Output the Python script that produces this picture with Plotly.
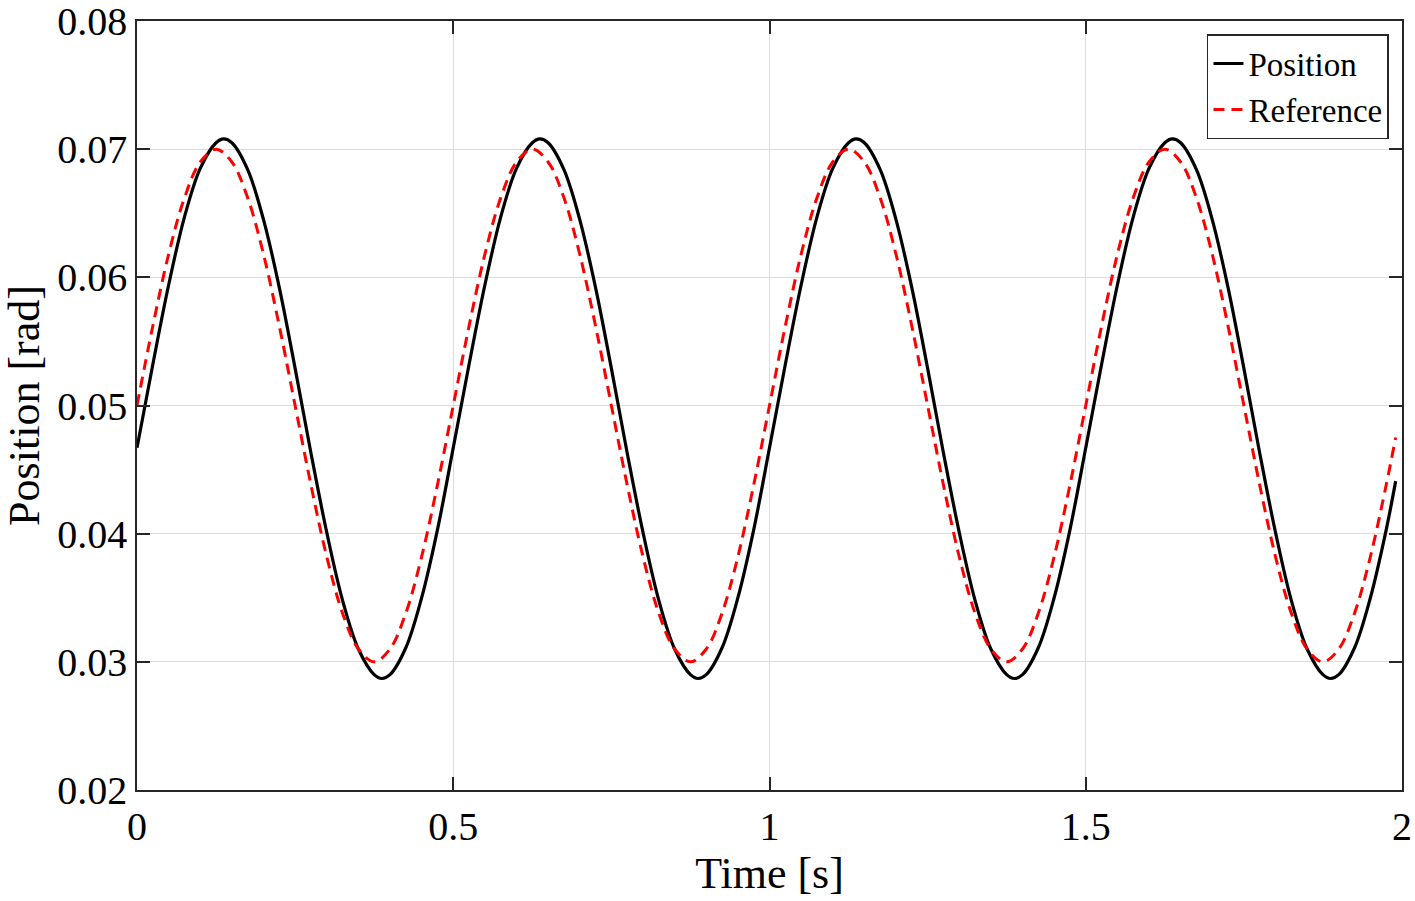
import plotly.graph_objects as go

# Reference signal
time_ref = [
    0.000, 0.025, 0.050, 0.075, 0.100, 0.125, 0.150, 0.175, 0.200, 0.225,
    0.250, 0.275, 0.300, 0.325, 0.350, 0.375, 0.400, 0.425, 0.450, 0.475,
    0.500, 0.525, 0.550, 0.575, 0.600, 0.625, 0.650, 0.675, 0.700, 0.725,
    0.750, 0.775, 0.800, 0.825, 0.850, 0.875, 0.900, 0.925, 0.950, 0.975,
    1.000, 1.025, 1.050, 1.075, 1.100, 1.125, 1.150, 1.175, 1.200, 1.225,
    1.250, 1.275, 1.300, 1.325, 1.350, 1.375, 1.400, 1.425, 1.450, 1.475,
    1.500, 1.525, 1.550, 1.575, 1.600, 1.625, 1.650, 1.675, 1.700, 1.725,
    1.750, 1.775, 1.800, 1.825, 1.850, 1.875, 1.900, 1.925, 1.950, 1.975,
    1.990,
]
reference = [
    0.0500, 0.0562, 0.0618, 0.0662, 0.0690, 0.0700, 0.0690, 0.0662, 0.0618, 0.0562,
    0.0500, 0.0438, 0.0382, 0.0338, 0.0310, 0.0300, 0.0310, 0.0338, 0.0382, 0.0438,
    0.0500, 0.0562, 0.0618, 0.0662, 0.0690, 0.0700, 0.0690, 0.0662, 0.0618, 0.0562,
    0.0500, 0.0438, 0.0382, 0.0338, 0.0310, 0.0300, 0.0310, 0.0338, 0.0382, 0.0438,
    0.0500, 0.0562, 0.0618, 0.0662, 0.0690, 0.0700, 0.0690, 0.0662, 0.0618, 0.0562,
    0.0500, 0.0438, 0.0382, 0.0338, 0.0310, 0.0300, 0.0310, 0.0338, 0.0382, 0.0438,
    0.0500, 0.0562, 0.0618, 0.0662, 0.0690, 0.0700, 0.0690, 0.0662, 0.0618, 0.0562,
    0.0500, 0.0438, 0.0382, 0.0338, 0.0310, 0.0300, 0.0310, 0.0338, 0.0382, 0.0438,
    0.0475,
]

time_pos = [
    0.000, 0.025, 0.050, 0.075, 0.100, 0.125, 0.137, 0.150, 0.175, 0.200, 0.225,
    0.250, 0.275, 0.300, 0.325, 0.350, 0.375, 0.387, 0.400, 0.425, 0.450, 0.475,
    0.500, 0.525, 0.550, 0.575, 0.600, 0.625, 0.637, 0.650, 0.675, 0.700, 0.725,
    0.750, 0.775, 0.800, 0.825, 0.850, 0.875, 0.887, 0.900, 0.925, 0.950, 0.975,
    1.000, 1.025, 1.050, 1.075, 1.100, 1.125, 1.137, 1.150, 1.175, 1.200, 1.225,
    1.250, 1.275, 1.300, 1.325, 1.350, 1.375, 1.387, 1.400, 1.425, 1.450, 1.475,
    1.500, 1.525, 1.550, 1.575, 1.600, 1.625, 1.637, 1.650, 1.675, 1.700, 1.725,
    1.750, 1.775, 1.800, 1.825, 1.850, 1.875, 1.887, 1.900, 1.925, 1.950, 1.975,
    1.990,
]
position = [
    0.0467, 0.0532, 0.0594, 0.0647, 0.0685, 0.0705, 0.0708, 0.0705, 0.0684, 0.0645, 0.0592,
    0.0529, 0.0463, 0.0401, 0.0348, 0.0310, 0.0290, 0.0287, 0.0290, 0.0311, 0.0350, 0.0403,
    0.0467, 0.0532, 0.0594, 0.0647, 0.0685, 0.0705, 0.0708, 0.0705, 0.0684, 0.0645, 0.0592,
    0.0529, 0.0463, 0.0401, 0.0348, 0.0310, 0.0290, 0.0287, 0.0290, 0.0311, 0.0350, 0.0403,
    0.0467, 0.0532, 0.0594, 0.0647, 0.0685, 0.0705, 0.0708, 0.0705, 0.0684, 0.0645, 0.0592,
    0.0529, 0.0463, 0.0401, 0.0348, 0.0310, 0.0290, 0.0287, 0.0290, 0.0311, 0.0350, 0.0403,
    0.0467, 0.0532, 0.0594, 0.0647, 0.0685, 0.0705, 0.0708, 0.0705, 0.0684, 0.0645, 0.0592,
    0.0529, 0.0463, 0.0401, 0.0348, 0.0310, 0.0290, 0.0287, 0.0290, 0.0311, 0.0350, 0.0403,
    0.0441,
]

x_ticks = [0, 0.5, 1, 1.5, 2]
x_tick_labels = ["0", "0.5", "1", "1.5", "2"]
y_ticks = [0.02, 0.03, 0.04, 0.05, 0.06, 0.07, 0.08]
y_tick_labels = ["0.02", "0.03", "0.04", "0.05", "0.06", "0.07", "0.08"]

FONT = "Liberation Serif"

fig = go.Figure()
fig.add_trace(go.Scatter(
    x=time_pos, y=position, name="Position", mode="lines",
    line=dict(color="black", width=3.2, shape="spline", smoothing=1.0),
))
fig.add_trace(go.Scatter(
    x=time_ref, y=reference, name="Reference", mode="lines",
    line=dict(color="#ff0000", width=3, dash="11px,7px", shape="spline", smoothing=1.0),
))

axis_common = dict(
    showline=True, linecolor="#262626", linewidth=1.5, mirror="ticks",
    ticks="inside", ticklen=13, tickwidth=1.5, tickcolor="#262626",
    showgrid=True, gridcolor="#dcdcdc", gridwidth=1,
    zeroline=False, automargin=False, ticklabeloverflow="allow",
    tickfont=dict(family=FONT, size=40, color="black"),
)

fig.update_xaxes(
    range=[0, 2], tickvals=x_ticks, ticktext=x_tick_labels,
    title=dict(text="Time [s]", font=dict(family=FONT, size=44, color="black"), standoff=6),
    **axis_common,
)
fig.update_yaxes(
    range=[0.02, 0.08], tickvals=y_ticks, ticktext=y_tick_labels,
    title=dict(text="Position [rad]", font=dict(family=FONT, size=44, color="black"), standoff=6),
    **axis_common,
)

fig.update_layout(
    width=1415, height=901,
    paper_bgcolor="white", plot_bgcolor="white",
    margin=dict(l=137, r=13, t=21, b=111),
    font=dict(family=FONT, color="black"),
    legend=dict(
        x=0.9897, y=0.983, xanchor="right", yanchor="top",
        bgcolor="white", bordercolor="#262626", borderwidth=1.5,
        font=dict(family=FONT, size=33, color="black"),
        itemwidth=30, tracegroupgap=0,
    ),
    showlegend=True,
)

fig.write_html(
    "out.html",
    config={"displayModeBar": False},
    post_script="document.body.style.margin='0px';document.body.style.overflow='hidden';",
)
